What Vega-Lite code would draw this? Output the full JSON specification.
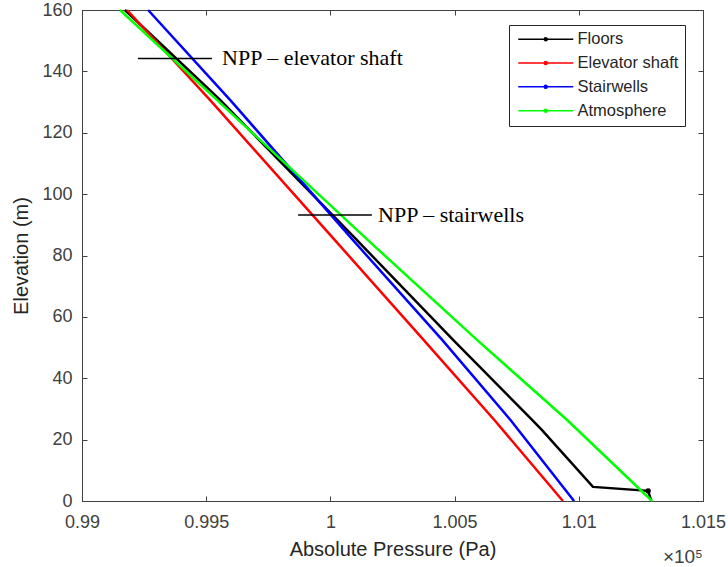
{
  "$schema": "https://vega.github.io/schema/vega-lite/v6.json",
  "width": 621,
  "height": 491,
  "autosize": {"type": "none"},
  "padding": {"left": 82, "top": 10, "right": 25, "bottom": 66},
  "background": "white",
  "config": {
    "view": {"stroke": "#404040", "strokeWidth": 1},
    "axis": {
      "grid": false,
      "labelFlush": false,
      "labelOverlap": false,
      "domainColor": "#404040",
      "tickColor": "#404040",
      "labelColor": "#404040",
      "titleColor": "#262626",
      "labelFont": "Liberation Sans",
      "titleFont": "Liberation Sans",
      "labelFontSize": 18,
      "titleFontSize": 20,
      "titleFontWeight": "normal",
      "tickSize": -5
    }
  },
  "title": {
    "text": "×10⁵",
    "orient": "bottom",
    "anchor": "end",
    "frame": "group",
    "offset": -11,
    "font": "Liberation Sans",
    "fontSize": 19,
    "fontWeight": "normal",
    "color": "#404040"
  },
  "datasets": {
    "lines": [
      {"series": "Floors", "elev": 160, "p": 99173},
      {"series": "Floors", "elev": 130.7, "p": 99556},
      {"series": "Floors", "elev": 85, "p": 100107},
      {"series": "Floors", "elev": 52.5, "p": 100494},
      {"series": "Floors", "elev": 26.4, "p": 100812},
      {"series": "Floors", "elev": 23.1, "p": 100852},
      {"series": "Floors", "elev": 4.6, "p": 101057},
      {"series": "Floors", "elev": 3.3, "p": 101279},
      {"series": "Floors", "elev": 0, "p": 101292},
      {"series": "Elevator shaft", "elev": 160, "p": 99181},
      {"series": "Elevator shaft", "elev": 130.7, "p": 99515},
      {"series": "Elevator shaft", "elev": 85, "p": 100018},
      {"series": "Elevator shaft", "elev": 52.5, "p": 100375},
      {"series": "Elevator shaft", "elev": 26.4, "p": 100660},
      {"series": "Elevator shaft", "elev": 0, "p": 100936},
      {"series": "Stairwells", "elev": 160, "p": 99266},
      {"series": "Stairwells", "elev": 130.7, "p": 99596},
      {"series": "Stairwells", "elev": 85, "p": 100091},
      {"series": "Stairwells", "elev": 52.5, "p": 100450},
      {"series": "Stairwells", "elev": 26.4, "p": 100725},
      {"series": "Stairwells", "elev": 0, "p": 100981},
      {"series": "Atmosphere", "elev": 160, "p": 99153},
      {"series": "Atmosphere", "elev": 130.7, "p": 99543},
      {"series": "Atmosphere", "elev": 85, "p": 100151},
      {"series": "Atmosphere", "elev": 52.5, "p": 100590},
      {"series": "Atmosphere", "elev": 26.4, "p": 100953},
      {"series": "Atmosphere", "elev": 0, "p": 101295}
    ],
    "npp": [
      {"label": "NPP – elevator shaft", "elev": 144.2, "p1": 99225, "p2": 99523, "pt": 99564},
      {"label": "NPP – stairwells", "elev": 93.2, "p1": 99870, "p2": 100167, "pt": 100192}
    ]
  },
  "layer": [
    {
      "data": {"name": "lines"},
      "mark": {"type": "line", "strokeWidth": 2.5},
      "encoding": {
        "x": {
          "field": "p",
          "type": "quantitative",
          "scale": {"domain": [99000, 101500], "nice": false, "zero": false},
          "axis": {
            "orient": "bottom",
            "values": [99000, 99500, 100000, 100500, 101000, 101500],
            "labelExpr": "format(datum.value / 100000, '~g')",
            "title": "Absolute Pressure (Pa)",
            "labelPadding": 17,
            "titlePadding": 8
          }
        },
        "y": {
          "field": "elev",
          "type": "quantitative",
          "scale": {"domain": [0, 160], "nice": false},
          "axis": {
            "orient": "left",
            "values": [0, 20, 40, 60, 80, 100, 120, 140, 160],
            "title": "Elevation (m)",
            "labelPadding": 15,
            "titlePadding": 10
          }
        },
        "color": {
          "field": "series",
          "type": "nominal",
          "scale": {
            "domain": ["Floors", "Elevator shaft", "Stairwells", "Atmosphere"],
            "range": ["#000000", "#ff0000", "#0000ff", "#00ff00"]
          },
          "legend": {
            "orient": "none",
            "legendX": 427,
            "legendY": 15,
            "title": null,
            "symbolType": "M-1,0H10M4.2,0a0.3,0.3 0 1,0 0.6,0a0.3,0.3 0 1,0 -0.6,0",
            "symbolSize": 100,
            "symbolStrokeWidth": 1.5,
            "labelFont": "Liberation Sans",
            "labelFontSize": 16.5,
            "labelColor": "#262626",
            "labelOffset": 46,
            "rowPadding": 6.8,
            "padding": 6,
            "fillColor": "white",
            "strokeColor": "#262626"
          }
        },
        "order": {"field": "elev", "type": "quantitative"}
      }
    },
    {
      "data": {"name": "lines"},
      "transform": [{"filter": "datum.series == 'Floors' && datum.elev == 3.3"}],
      "mark": {"type": "point", "filled": true, "size": 30, "color": "#000000", "opacity": 1},
      "encoding": {
        "x": {"field": "p", "type": "quantitative", "axis": null},
        "y": {"field": "elev", "type": "quantitative", "axis": null}
      }
    },
    {
      "data": {"name": "npp"},
      "mark": {"type": "rule", "color": "#000000", "strokeWidth": 1.5},
      "encoding": {
        "x": {
          "field": "p1",
          "type": "quantitative",
          "axis": {
            "orient": "top",
            "values": [99000, 99500, 100000, 100500, 101000, 101500],
            "labels": false,
            "title": null
          }
        },
        "x2": {"field": "p2"},
        "y": {
          "field": "elev",
          "type": "quantitative",
          "axis": {
            "orient": "right",
            "values": [0, 20, 40, 60, 80, 100, 120, 140, 160],
            "labels": false,
            "title": null
          }
        }
      }
    },
    {
      "data": {"name": "npp"},
      "mark": {
        "type": "text",
        "align": "left",
        "baseline": "middle",
        "font": "Liberation Serif",
        "fontSize": 22,
        "color": "#000000"
      },
      "encoding": {
        "x": {"field": "pt", "type": "quantitative", "axis": null},
        "y": {"field": "elev", "type": "quantitative", "axis": null},
        "text": {"field": "label"}
      }
    }
  ],
  "resolve": {"axis": {"x": "independent", "y": "independent"}}
}
